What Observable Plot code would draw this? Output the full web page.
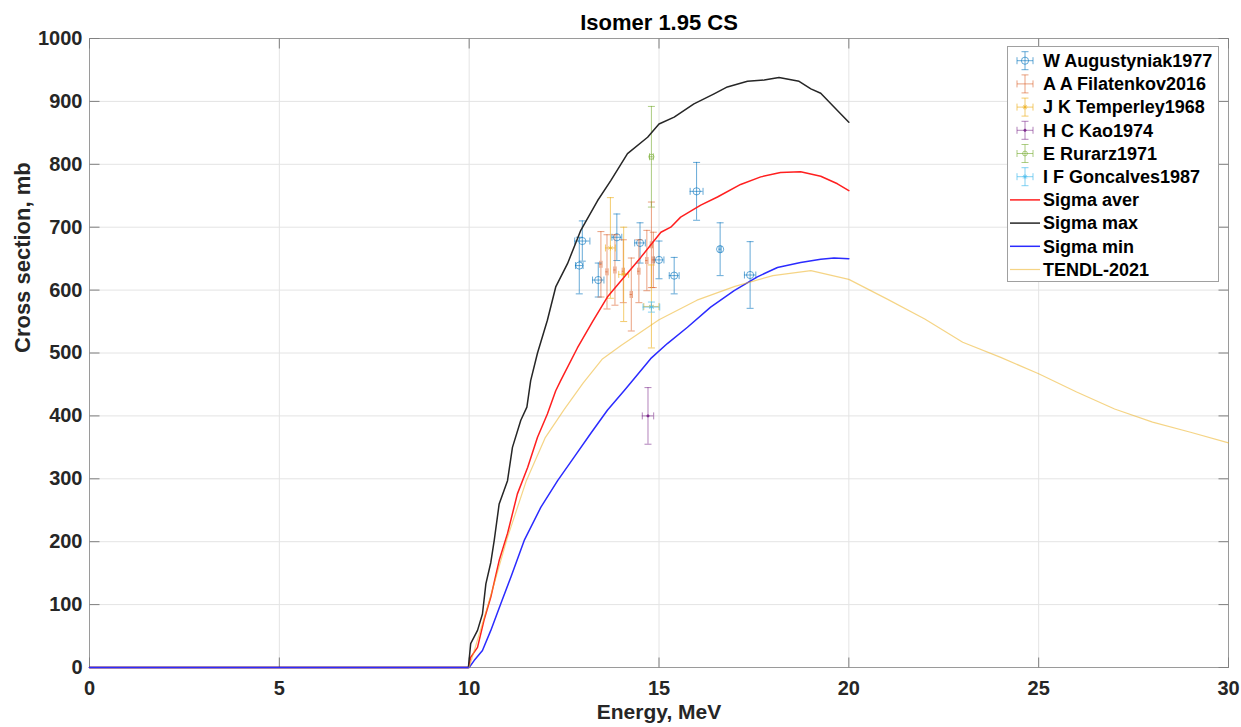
<!DOCTYPE html>
<html>
<head>
<meta charset="utf-8">
<script src="https://cdn.jsdelivr.net/npm/d3@7"></script>
<script src="https://cdn.jsdelivr.net/npm/@observablehq/plot@0.6"></script>
<style>
  html, body { margin: 0; padding: 0; background: #fff; }
  #wrap { position: relative; width: 1241px; height: 727px; overflow: hidden;
          font-family: "Liberation Sans", Arial, Helvetica, sans-serif; }
  #chart svg { display: block; }
  #legend { position: absolute; left: 0; top: 0; }
</style>
</head>
<body>
<div id="wrap"><div id="chart"></div><svg id="legend" width="1241" height="727"></svg></div>
<script>
// ---- Experimental data: energy (MeV), cross section (mb), uncertainties ----
const augE  = [12.98, 12.90, 13.40, 13.89, 14.50, 15.00, 15.40, 15.99, 16.61, 17.40];
const augV  = [678, 639, 616, 684, 675, 648, 623, 757, 665, 624];
const augDV = [32, 45, 27, 37, 32, 30, 29, 46, 42, 53];
const augDE = [0.20, 0.10, 0.15, 0.13, 0.14, 0.13, 0.13, 0.17, 0.03, 0.15];

const filE  = [13.47, 13.63, 13.84, 14.06, 14.27, 14.47, 14.68, 14.80, 14.85];
const filV  = [641, 629, 632, 630, 593, 630, 647, 672, 648];
const filDV = [52, 59, 56, 50, 58, 50, 48, 68, 44];
const filDE = [0.03, 0.03, 0.03, 0.03, 0.03, 0.03, 0.03, 0.03, 0.03];

const tempE  = [13.72, 14.07, 14.80];
const tempV  = [667, 625, 574];
const tempDV = [80, 75, 66];
const tempDE = [0.13, 0.13, 0.20];

const kaoE = [14.71], kaoV = [400], kaoDV = [45], kaoDE = [0.15];
const rurE = [14.80], rurV = [812], rurDV = [80], rurDE = [0.05];
const gonE = [14.80], gonV = [573], gonDV = [8],  gonDE = [0.22];

// ---- Evaluated curves ----
const avgE = [0, 9.98, 10.04, 10.22, 10.39, 10.57, 10.79, 11.01, 11.27, 11.54, 11.80, 12.06, 12.28, 12.41,
              12.85, 13.25, 13.64, 14.00, 14.52, 15.05, 15.31, 15.57, 16.10, 16.54, 17.15, 17.68, 18.20,
              18.73, 19.26, 19.70, 20.00];
const avgV = [0, 0, 16, 32, 75, 112, 170, 213, 276, 318, 366, 403, 440, 456,
              508, 550, 589, 615, 652, 692, 700, 716, 735, 748, 768, 780, 787,
              788, 781, 769, 758];

const maxE = [0, 9.98, 10.04, 10.22, 10.35, 10.44, 10.57, 10.66, 10.79, 11.01, 11.14, 11.36, 11.52, 11.62,
              11.80, 12.06, 12.28, 12.59, 12.94, 13.38, 13.73, 14.17, 14.70, 15.00, 15.40, 15.92, 16.45,
              16.80, 17.33, 17.77, 18.16, 18.69, 19.00, 19.26, 19.61, 20.00];
const maxV = [0, 0, 38, 59, 85, 133, 167, 202, 260, 297, 350, 393, 414, 456,
              500, 552, 605, 642, 695, 742, 774, 817, 843, 864, 875, 896, 912,
              923, 932, 934, 938, 932, 920, 913, 891, 867];

const minE = [0, 10.00, 10.13, 10.35, 10.57, 10.83, 11.10, 11.45, 11.89, 12.33, 12.76, 13.20, 13.64, 14.08,
              14.30, 14.78, 15.22, 15.75, 16.36, 16.98, 17.59, 18.12, 18.73, 19.26, 19.61, 20.00];
const minV = [0, 0, 11, 27, 59, 101, 144, 202, 255, 297, 334, 372, 409, 440,
              456, 491, 515, 541, 573, 599, 621, 636, 644, 649, 651, 650];

const tendlE = [10, 10.5, 11, 11.5, 12, 12.5, 13, 13.5, 14, 15, 16, 17, 18, 19, 20,
                21, 22, 23, 24, 25, 26, 27, 28, 29, 30];
const tendlV = [0, 100, 205, 296, 365, 410, 452, 490, 512, 553, 584, 606, 623, 631, 617,
                586, 554, 517, 493, 467, 438, 411, 390, 374, 357];

const xTicks = [0, 5, 10, 15, 20, 25, 30];
const yTicks = [0, 100, 200, 300, 400, 500, 600, 700, 800, 900, 1000];

const seriesNames = ["W Augustyniak1977", "A A Filatenkov2016", "J K Temperley1968", "H C Kao1974",
                     "E Rurarz1971", "I F Goncalves1987", "Sigma aver", "Sigma max", "Sigma min", "TENDL-2021"];

// ---- Styles ----
const FONT = '"Liberation Sans", Arial, Helvetica, sans-serif';
const TXT = "#262626";
const colAug = "#0072BD", colFil = "#D95319", colTemp = "#EDB120",
      colKao = "#7E2F8E", colRur = "#77AC30", colGon = "#4DBEEE";
const colAvg = "#ff1f1f", colMax = "#262626", colMin = "#2b2bff", colTendl = "#EDB120";
const tickColor = "#808080";
const TICK = 10;

// Cap glyphs for error bars (half-length = r)
const hCap = { draw(ctx, size) { const w = Math.sqrt(size / Math.PI); ctx.moveTo(-w, 0); ctx.lineTo(w, 0); } };
const vCap = { draw(ctx, size) { const w = Math.sqrt(size / Math.PI); ctx.moveTo(0, -w); ctx.lineTo(0, w); } };
// Inward tick glyphs for the four sides of the box
const tickUp    = { draw(ctx) { ctx.moveTo(0, 0); ctx.lineTo(0, -TICK); } };
const tickDown  = { draw(ctx) { ctx.moveTo(0, 0); ctx.lineTo(0, TICK); } };
const tickRight = { draw(ctx) { ctx.moveTo(0, 0); ctx.lineTo(TICK, 0); } };
const tickLeft  = { draw(ctx) { ctx.moveTo(0, 0); ctx.lineTo(-TICK, 0); } };

function rows(E, V, DV, DE) {
  return E.map((e, i) => ({ e, v: V[i], dv: DV[i], de: DE[i] }));
}

function errorbars(data, color, opacity, marker) {
  const s = { stroke: color, strokeOpacity: opacity, strokeWidth: 1 };
  const capR = 3.5;
  const out = [
    Plot.ruleX(data, { x: "e", y1: d => d.v - d.dv, y2: d => d.v + d.dv, ...s }),
    Plot.ruleY(data, { y: "v", x1: d => d.e - d.de, x2: d => d.e + d.de, ...s }),
    Plot.dot(data, { x: "e", y: d => d.v - d.dv, symbol: hCap, r: capR, fill: "none", ...s }),
    Plot.dot(data, { x: "e", y: d => d.v + d.dv, symbol: hCap, r: capR, fill: "none", ...s }),
    Plot.dot(data, { x: d => d.e - d.de, y: "v", symbol: vCap, r: capR, fill: "none", ...s }),
    Plot.dot(data, { x: d => d.e + d.de, y: "v", symbol: vCap, r: capR, fill: "none", ...s })
  ];
  if (marker) out.push(Plot.dot(data, { x: "e", y: "v", ...marker, ...s }));
  return out;
}

function curve(E, V) { return E.map((e, i) => ({ e, v: V[i] })); }

const xMin = 0, xMax = 30, yMin = 0, yMax = 1000;
const tickStyle = { fill: "none", stroke: tickColor, strokeWidth: 1 };

const chart = Plot.plot({
  width: 1241,
  height: 727,
  marginLeft: 89,
  marginRight: 13,
  marginTop: 38,
  marginBottom: 60,
  style: { fontFamily: FONT, color: TXT, background: "#fff" },
  x: { domain: [xMin, xMax] },
  y: { domain: [yMin, yMax] },
  marks: [
    Plot.gridX(xTicks, { stroke: "#e4e4e4", strokeOpacity: 1 }),
    Plot.gridY(yTicks, { stroke: "#e4e4e4", strokeOpacity: 1 }),
    Plot.frame({ stroke: "#9a9a9a" }),
    // inward ticks on all four sides
    Plot.dot(xTicks, { x: d => d, y: yMin, symbol: tickUp, ...tickStyle }),
    Plot.dot(xTicks, { x: d => d, y: yMax, symbol: tickDown, ...tickStyle }),
    Plot.dot(yTicks, { y: d => d, x: xMin, symbol: tickRight, ...tickStyle }),
    Plot.dot(yTicks, { y: d => d, x: xMax, symbol: tickLeft, ...tickStyle }),

    ...errorbars(rows(augE, augV, augDV, augDE), colAug, 0.6, { symbol: "circle", r: 3.6, fill: "none" }),
    ...errorbars(rows(filE, filV, filDV, filDE), colFil, 0.55, null),
    ...errorbars(rows(tempE, tempV, tempDV, tempDE), colTemp, 0.65, { symbol: "asterisk", r: 2.5, fill: "none" }),
    ...errorbars(rows(kaoE, kaoV, kaoDV, kaoDE), colKao, 0.6, { symbol: "circle", r: 1.2, fill: colKao }),
    ...errorbars(rows(rurE, rurV, rurDV, rurDE), colRur, 0.6, { symbol: "circle", r: 2.6, fill: "none" }),
    ...errorbars(rows(gonE, gonV, gonDV, gonDE), colGon, 0.7, { symbol: "asterisk", r: 2.6, fill: "none" }),

    Plot.line(curve(avgE, avgV), { x: "e", y: "v", stroke: colAvg, strokeWidth: 1.5 }),
    Plot.line(curve(maxE, maxV), { x: "e", y: "v", stroke: colMax, strokeWidth: 1.5 }),
    Plot.line(curve(minE, minV), { x: "e", y: "v", stroke: colMin, strokeWidth: 1.5 }),
    Plot.line(curve(tendlE, tendlV), { x: "e", y: "v", stroke: colTendl, strokeOpacity: 0.55, strokeWidth: 1.2 }),

    // tick labels
    Plot.axisX(xTicks, { anchor: "bottom", tickSize: 0, tickPadding: 13, fontSize: 20, fontWeight: "bold",
                         fill: TXT, label: null, tickFormat: d => `${d}` }),
    Plot.axisY(yTicks, { anchor: "left", tickSize: 0, tickPadding: 7, fontSize: 20, fontWeight: "bold",
                         fill: TXT, label: null, tickFormat: d => `${d}` }),
    // title and axis titles
    Plot.text(["Isomer 1.95 CS"], { text: d => d, frameAnchor: "top", lineAnchor: "middle", dy: -16,
                                    fontSize: 22, fontWeight: "bold", fill: "#000" }),
    Plot.text(["Energy, MeV"], { text: d => d, frameAnchor: "bottom", lineAnchor: "middle", dy: 45,
                                 fontSize: 21, fontWeight: "bold", fill: TXT }),
    Plot.text(["Cross section, mb"], { text: d => d, frameAnchor: "left", lineAnchor: "middle", dx: -67,
                                       rotate: -90, fontSize: 22, fontWeight: "bold", fill: TXT })
  ]
});
document.getElementById("chart").appendChild(chart);

// ---- Legend box (top right, inside the axes) ----
const legendItems = [
  { kind: "err", color: colAug, opacity: 0.6, marker: "circle" },
  { kind: "err", color: colFil, opacity: 0.55, marker: null },
  { kind: "err", color: colTemp, opacity: 0.65, marker: "star" },
  { kind: "err", color: colKao, opacity: 0.6, marker: "dot" },
  { kind: "err", color: colRur, opacity: 0.6, marker: "small" },
  { kind: "err", color: colGon, opacity: 0.7, marker: "star" },
  { kind: "line", color: colAvg, opacity: 1, width: 1.5 },
  { kind: "line", color: colMax, opacity: 1, width: 1.5 },
  { kind: "line", color: colMin, opacity: 1, width: 1.5 },
  { kind: "line", color: colTendl, opacity: 0.55, width: 1.2 }
].map((d, i) => ({ ...d, name: seriesNames[i] }));

const lg = d3.select("#legend");
const box = { x: 1007.5, y: 46.5, w: 211, h: 235 };
lg.append("rect").attr("x", box.x).attr("y", box.y).attr("width", box.w).attr("height", box.h)
  .attr("fill", "#fff").attr("stroke", "#a0a0a0");
const rowY = i => 60.7 + i * 23.2;
const cx = 1025;
legendItems.forEach((d, i) => {
  const y = rowY(i);
  const g = lg.append("g").attr("stroke", d.color).attr("stroke-opacity", d.opacity).attr("fill", "none");
  if (d.kind === "err") {
    g.append("path").attr("d",
      `M${cx},${y - 9}V${y + 9}M${cx - 3.5},${y - 9}H${cx + 3.5}M${cx - 3.5},${y + 9}H${cx + 3.5}` +
      `M${cx - 8},${y}H${cx + 8}M${cx - 8},${y - 3.5}V${y + 3.5}M${cx + 8},${y - 3.5}V${y + 3.5}`);
    if (d.marker === "circle") g.append("circle").attr("cx", cx).attr("cy", y).attr("r", 3.6);
    if (d.marker === "small") g.append("circle").attr("cx", cx).attr("cy", y).attr("r", 2.4);
    if (d.marker === "dot") g.append("circle").attr("cx", cx).attr("cy", y).attr("r", 1.2).attr("fill", d.color);
    if (d.marker === "star") g.append("path").attr("d",
      `M${cx - 2.5},${y}H${cx + 2.5}M${cx},${y - 2.5}V${y + 2.5}M${cx - 1.8},${y - 1.8}L${cx + 1.8},${y + 1.8}M${cx - 1.8},${y + 1.8}L${cx + 1.8},${y - 1.8}`);
  } else {
    g.append("line").attr("x1", 1010).attr("x2", 1040).attr("y1", y).attr("y2", y)
      .attr("stroke-width", d.width);
  }
  lg.append("text").attr("x", 1043).attr("y", y).attr("dy", "0.35em")
    .attr("font-family", FONT).attr("font-size", 18).attr("font-weight", "bold")
    .attr("fill", "#000").text(d.name);
});
</script>
</body>
</html>
